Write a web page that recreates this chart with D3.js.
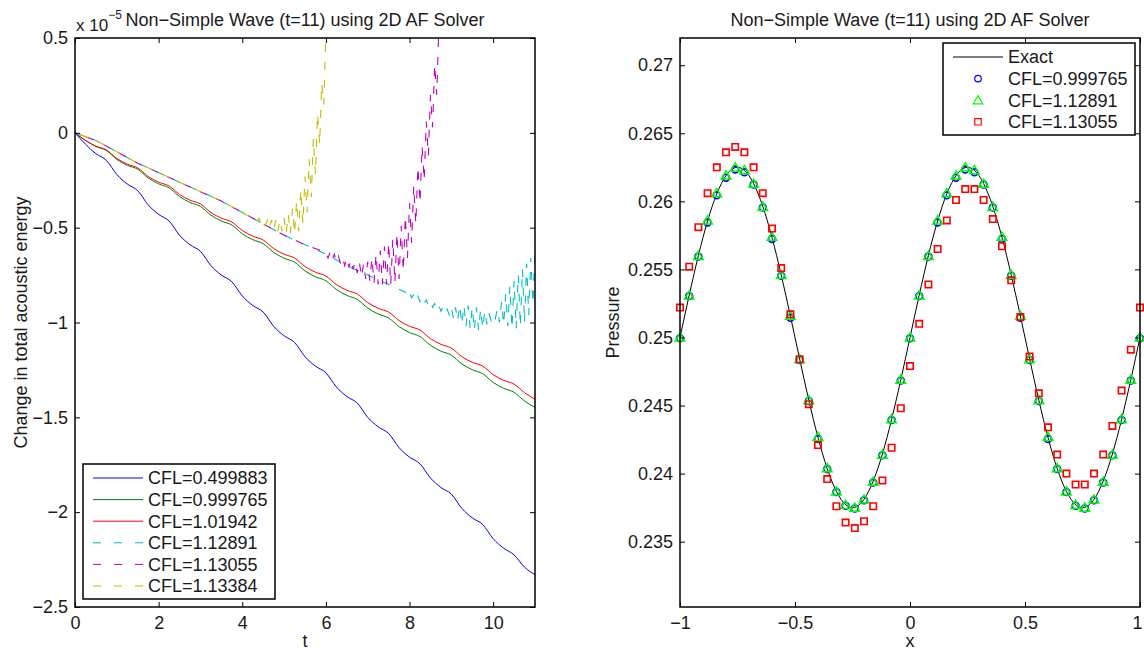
<!DOCTYPE html>
<html>
<head>
<meta charset="utf-8">
<script src="https://cdn.jsdelivr.net/npm/d3@7"></script>
<style>
  body { margin: 0; background: #fff; }
  text { font-family: "Liberation Sans", Arial, Helvetica, sans-serif; fill: #1a1a1a; }
</style>
</head>
<body>
<svg id="chart" width="1144" height="652"></svg>
<script>
// ---------- left panel: change in total acoustic energy (x 1e-5) ----------
const tGrid = [0,0.25,0.5,0.75,1,1.25,1.5,1.75,2,2.25,2.5,2.75,3,3.25,3.5,3.75,4,4.25,4.5,4.75,5,5.25,5.5,5.75,6,6.25,6.5,6.75,7,7.25,7.5,7.75,8,8.25,8.5,8.75,9,9.25,9.5,9.75,10,10.25,10.5,10.75,11];

const energyCfl0499 = [0,-0.06,-0.11,-0.145,-0.22,-0.27,-0.305,-0.38,-0.43,-0.465,-0.54,-0.59,-0.625,-0.70,-0.75,-0.785,-0.86,-0.91,-0.945,-1.02,-1.07,-1.105,-1.18,-1.23,-1.265,-1.34,-1.39,-1.425,-1.50,-1.55,-1.585,-1.66,-1.71,-1.745,-1.82,-1.87,-1.905,-1.98,-2.03,-2.065,-2.14,-2.19,-2.225,-2.29,-2.33];
const energyCfl0999 = [0,-0.04,-0.072,-0.093,-0.14,-0.171,-0.192,-0.238,-0.269,-0.29,-0.336,-0.367,-0.388,-0.434,-0.465,-0.486,-0.532,-0.563,-0.584,-0.63,-0.661,-0.682,-0.728,-0.759,-0.78,-0.826,-0.857,-0.878,-0.924,-0.955,-0.976,-1.022,-1.053,-1.074,-1.12,-1.151,-1.172,-1.218,-1.249,-1.27,-1.316,-1.347,-1.368,-1.414,-1.448];
const energyCfl1019 = [0,-0.04,-0.07,-0.09,-0.135,-0.165,-0.185,-0.23,-0.26,-0.28,-0.325,-0.355,-0.375,-0.42,-0.45,-0.47,-0.515,-0.545,-0.565,-0.61,-0.64,-0.66,-0.705,-0.735,-0.755,-0.80,-0.83,-0.85,-0.895,-0.925,-0.945,-0.99,-1.02,-1.04,-1.085,-1.115,-1.135,-1.18,-1.21,-1.23,-1.275,-1.305,-1.325,-1.37,-1.405];

// unstable runs: [t, value] pairs, dense where the solution oscillates
const energyCfl1128 = [[0,0],[0.5,-0.04],[1,-0.1],[1.5,-0.16],[2,-0.21],[2.5,-0.26],[3,-0.31],[3.5,-0.36],[4,-0.42],[4.5,-0.48],[5,-0.54],[5.5,-0.59],[6,-0.64],[6.5,-0.7],[7,-0.75],[7.5,-0.8],[7.9,-0.84],
  [7.95,-0.86],[8,-0.84],[8.05,-0.87],[8.1,-0.85],[8.15,-0.88],[8.2,-0.86],[8.25,-0.89],[8.3,-0.87],[8.35,-0.9],[8.4,-0.88],[8.45,-0.91],[8.5,-0.89],[8.55,-0.92],[8.6,-0.9],[8.65,-0.93],[8.7,-0.91],[8.75,-0.94],[8.8,-0.92],[8.85,-0.95],
  [8.9,-0.93],[8.95,-0.96],[9,-0.92],[9.05,-0.98],[9.1,-0.92],[9.15,-0.99],[9.2,-0.91],[9.25,-1.01],[9.3,-0.91],[9.35,-1.02],[9.4,-0.91],[9.45,-1.03],[9.5,-0.92],[9.55,-1.04],[9.6,-0.92],[9.65,-1.04],[9.7,-0.93],[9.75,-1.03],[9.8,-0.94],[9.85,-1.01],[9.9,-0.95],[9.95,-0.99],
  [10,-0.96],[10.05,-0.98],[10.1,-0.93],[10.15,-1.0],[10.2,-0.89],[10.25,-1.01],[10.3,-0.85],[10.35,-1.02],[10.4,-0.81],[10.45,-1.03],[10.5,-0.78],[10.55,-1.03],[10.6,-0.75],[10.65,-1.02],[10.7,-0.72],[10.75,-1.0],[10.8,-0.69],[10.85,-0.96],[10.9,-0.66],[10.95,-0.9],[11,-0.63]];

const energyCfl1130 = [[0,0],[0.5,-0.04],[1,-0.1],[1.5,-0.16],[2,-0.21],[2.5,-0.26],[3,-0.31],[3.5,-0.36],[4,-0.42],[4.5,-0.48],[5,-0.54],[5.5,-0.59],
  [6,-0.63],[6.05,-0.66],[6.1,-0.63],[6.15,-0.67],[6.2,-0.64],[6.25,-0.68],[6.3,-0.65],[6.35,-0.69],[6.4,-0.66],[6.45,-0.7],[6.5,-0.66],[6.55,-0.71],[6.6,-0.67],[6.65,-0.72],[6.7,-0.68],[6.75,-0.74],[6.8,-0.68],[6.85,-0.76],[6.9,-0.69],[6.95,-0.77],
  [7,-0.68],[7.05,-0.78],[7.1,-0.66],[7.15,-0.79],[7.2,-0.64],[7.25,-0.8],[7.3,-0.62],[7.35,-0.8],[7.4,-0.6],[7.45,-0.8],[7.5,-0.58],[7.55,-0.8],[7.6,-0.56],[7.65,-0.79],[7.7,-0.53],[7.75,-0.77],[7.8,-0.49],[7.85,-0.73],[7.9,-0.44],[7.95,-0.66],
  [8,-0.37],[8.05,-0.58],[8.1,-0.28],[8.15,-0.48],[8.2,-0.18],[8.25,-0.37],[8.3,-0.07],[8.35,-0.25],[8.4,0.06],[8.45,-0.12],[8.5,0.2],[8.55,0.03],[8.6,0.36],[8.65,0.2],[8.7,0.55]];

const energyCfl1133 = [[0,0],[0.5,-0.04],[1,-0.1],[1.5,-0.16],[2,-0.21],[2.5,-0.26],[3,-0.31],[3.5,-0.36],[4,-0.42],
  [4.3,-0.46],[4.35,-0.47],[4.4,-0.45],[4.45,-0.48],[4.5,-0.46],[4.55,-0.49],[4.6,-0.46],[4.65,-0.5],[4.7,-0.46],[4.75,-0.51],[4.8,-0.46],[4.85,-0.52],[4.9,-0.46],[4.95,-0.52],
  [5,-0.45],[5.05,-0.53],[5.1,-0.43],[5.15,-0.53],[5.2,-0.4],[5.25,-0.53],[5.3,-0.36],[5.35,-0.52],[5.4,-0.3],[5.45,-0.48],[5.5,-0.23],[5.55,-0.42],[5.6,-0.14],[5.65,-0.34],[5.7,-0.03],[5.75,-0.22],[5.8,0.1],[5.85,-0.06],[5.9,0.26],[5.95,0.15],[6,0.55]];

const leftLabels = ["CFL=0.499883","CFL=0.999765","CFL=1.01942","CFL=1.12891","CFL=1.13055","CFL=1.13384"];
const leftColors = ["#0000ff","#008000","#ff0000","#00bfbf","#bf00bf","#bfbf00"];
const leftXTicks = [0,2,4,6,8,10];
const leftYTicks = [0.5,0,-0.5,-1,-1.5,-2,-2.5];
const leftYTickLabels = ["0.5","0","\u22120.5","\u22121","\u22121.5","\u22122","\u22122.5"];

// ---------- right panel: pressure profile at t=11 ----------
const sampleX = [-1,-0.96,-0.92,-0.88,-0.84,-0.8,-0.76,-0.72,-0.68,-0.64,-0.6,-0.56,-0.52,-0.48,-0.44,-0.4,-0.36,-0.32,-0.28,-0.24,-0.2,-0.16,-0.12,-0.08,-0.04,0,0.04,0.08,0.12,0.16,0.2,0.24,0.28,0.32,0.36,0.4,0.44,0.48,0.52,0.56,0.6,0.64,0.68,0.72,0.76,0.8,0.84,0.88,0.92,0.96,1];
const exactP = [0.25,0.25311,0.25602,0.25856,0.26055,0.26189,0.26248,0.26228,0.26131,0.25963,0.25735,0.2546,0.25157,0.24843,0.2454,0.24265,0.24037,0.23869,0.23772,0.23752,0.23811,0.23945,0.24144,0.24398,0.24689,0.25,0.25311,0.25602,0.25856,0.26055,0.26189,0.26248,0.26228,0.26131,0.25963,0.25735,0.2546,0.25157,0.24843,0.2454,0.24265,0.24037,0.23869,0.23772,0.23752,0.23811,0.23945,0.24144,0.24398,0.24689,0.25];
const pressCfl0999 = [0.2500,0.2531,0.2560,0.2585,0.2605,0.2618,0.2624,0.2622,0.2613,0.2596,0.2573,0.2546,0.2515,0.2484,0.2454,0.2426,0.2404,0.2387,0.2377,0.2375,0.2381,0.2394,0.2414,0.2440,0.2469,0.2500,0.2531,0.2560,0.2585,0.2605,0.2618,0.2624,0.2622,0.2613,0.2596,0.2573,0.2546,0.2515,0.2484,0.2454,0.2426,0.2404,0.2387,0.2377,0.2375,0.2381,0.2394,0.2414,0.2440,0.2469,0.2500];
const pressCfl1128 = [0.2500,0.2531,0.2560,0.2586,0.2606,0.2619,0.2625,0.2623,0.2613,0.2596,0.2574,0.2546,0.2516,0.2484,0.2454,0.2427,0.2404,0.2387,0.2377,0.2375,0.2381,0.2394,0.2414,0.2440,0.2469,0.2500,0.2531,0.2560,0.2586,0.2606,0.2619,0.2625,0.2623,0.2613,0.2596,0.2574,0.2546,0.2516,0.2484,0.2454,0.2427,0.2404,0.2387,0.2377,0.2375,0.2381,0.2394,0.2414,0.2440,0.2469,0.2500];
const pressCfl1130 = [0.2522,0.2552,0.2581,0.2606,0.2625,0.2636,0.2640,0.2636,0.2625,0.2606,0.2580,0.2551,0.2517,0.2484,0.2451,0.2421,0.2396,0.2376,0.2364,0.2360,0.2365,0.2376,0.2395,0.2419,0.2448,0.2479,0.2510,0.2539,0.2565,0.2586,0.2601,0.2609,0.2609,0.2601,0.2587,0.2567,0.2542,0.2515,0.2486,0.2459,0.2434,0.2414,0.2400,0.2392,0.2392,0.2400,0.2414,0.2435,0.2461,0.2491,0.2522];

const rightLabels = ["Exact","CFL=0.999765","CFL=1.12891","CFL=1.13055"];
const rightXTicks = [-1,-0.5,0,0.5,1];
const rightXTickLabels = ["\u22121","\u22120.5","0","0.5","1"];
const rightYTicks = [0.235,0.24,0.245,0.25,0.255,0.26,0.265,0.27];

const title = "Non\u2212Simple Wave (t=11) using 2D AF Solver";

// ---------- drawing ----------
const svg = d3.select('#chart');
const fontSize = 18;
const tick = 5;

const left = { x0: 75, x1: 535, y0: 38, y1: 607 };
const right = { x0: 680, x1: 1140, y0: 38, y1: 607 };

function drawFrame(box, x, y, xTicks, xLabels, yTicks, yLabels) {
    const g = svg.append('g');
    const fmt = (labels) => (d, i) => labels ? labels[i] : String(d);

    g.append('g')
        .attr('class', 'xaxis')
        .attr('transform', `translate(0,${box.y1})`)
        .call(d3.axisBottom(x).tickValues(xTicks).tickFormat(fmt(xLabels)).tickSizeInner(-tick).tickSizeOuter(0).tickPadding(9));
    g.append('g')
        .attr('transform', `translate(0,${box.y0})`)
        .call(d3.axisTop(x).tickValues(xTicks).tickFormat('').tickSizeInner(-tick).tickSizeOuter(0));
    g.append('g')
        .attr('transform', `translate(${box.x0},0)`)
        .call(d3.axisLeft(y).tickValues(yTicks).tickFormat(fmt(yLabels)).tickSizeInner(-tick).tickSizeOuter(0).tickPadding(7));
    g.append('g')
        .attr('transform', `translate(${box.x1},0)`)
        .call(d3.axisRight(y).tickValues(yTicks).tickFormat('').tickSizeInner(-tick).tickSizeOuter(0));

    g.selectAll('.domain').remove();
    g.selectAll('.tick line').attr('stroke', '#000').attr('stroke-width', 1);
    g.selectAll('.tick text')
        .style('font-family', '"Liberation Sans", Arial, sans-serif')
        .style('font-size', fontSize + 'px')
        .attr('fill', '#1a1a1a');

    g.append('rect')
        .attr('x', box.x0).attr('y', box.y0)
        .attr('width', box.x1 - box.x0).attr('height', box.y1 - box.y0)
        .attr('fill', 'none').attr('stroke', '#000').attr('stroke-width', 1.5);
    return g;
}

// ---- left panel ----
const xT = d3.scaleLinear().domain([0, 11]).range([left.x0, left.x1]);
const yE = d3.scaleLinear().domain([-2.5, 0.5]).range([left.y1, left.y0]);

svg.append('defs').append('clipPath').attr('id', 'clipLeft')
    .append('rect')
    .attr('x', left.x0).attr('y', left.y0)
    .attr('width', left.x1 - left.x0).attr('height', left.y1 - left.y0);

const plotL = svg.append('g').attr('clip-path', 'url(#clipLeft)');

const smoothLine = d3.line().x((d, i) => xT(tGrid[i])).y(d => yE(d)).curve(d3.curveMonotoneX);
const pairLine = d3.line().x(d => xT(d[0])).y(d => yE(d[1]));

[energyCfl0499, energyCfl0999, energyCfl1019].forEach((vals, i) => {
    plotL.append('path')
        .attr('d', smoothLine(vals))
        .attr('fill', 'none')
        .attr('stroke', leftColors[i])
        .attr('stroke-width', 1);
});

const dashOffsets = [0, 6, 12];
[energyCfl1128, energyCfl1130, energyCfl1133].forEach((pts, i) => {
    plotL.append('path')
        .attr('d', pairLine(pts))
        .attr('fill', 'none')
        .attr('stroke', leftColors[i + 3])
        .attr('stroke-width', 1.1)
        .attr('stroke-dasharray', '8,10')
        .attr('stroke-dashoffset', dashOffsets[i]);
});

drawFrame(left, xT, yE, leftXTicks, null, leftYTicks, leftYTickLabels);

// left legend
const legL = { x: 83, y: 464, w: 192, h: 135, row: 21.6 };
const lg = svg.append('g');
lg.append('rect')
    .attr('x', legL.x).attr('y', legL.y).attr('width', legL.w).attr('height', legL.h)
    .attr('fill', '#fff').attr('stroke', '#000').attr('stroke-width', 1.5);
leftLabels.forEach((lab, i) => {
    const cy = legL.y + 14 + i * legL.row;
    lg.append('line')
        .attr('x1', legL.x + 10).attr('x2', legL.x + 60)
        .attr('y1', cy).attr('y2', cy)
        .attr('stroke', leftColors[i]).attr('stroke-width', 1)
        .attr('stroke-dasharray', i >= 3 ? '8,13' : null);
    lg.append('text')
        .attr('x', legL.x + 65).attr('y', cy)
        .attr('dy', '0.35em')
        .style('font-size', fontSize + 'px')
        .text(lab);
});

// titles and labels, left
svg.append('text')
    .attr('x', (left.x0 + left.x1) / 2).attr('y', 26)
    .attr('text-anchor', 'middle')
    .style('font-size', fontSize + 'px')
    .text(title);

const mult = svg.append('text')
    .attr('x', left.x0 + 1).attr('y', 31)
    .style('font-size', '17px');
mult.append('tspan').text('x 10');
mult.append('tspan').attr('dy', -12).style('font-size', '12px').text('\u22125');

svg.append('text')
    .attr('x', (left.x0 + left.x1) / 2).attr('y', 647)
    .attr('text-anchor', 'middle')
    .style('font-size', fontSize + 'px')
    .text('t');

svg.append('text')
    .attr('transform', `translate(27,${(left.y0 + left.y1) / 2}) rotate(-90)`)
    .attr('text-anchor', 'middle')
    .style('font-size', fontSize + 'px')
    .text('Change in total acoustic energy');

// ---- right panel ----
const xX = d3.scaleLinear().domain([-1, 1]).range([right.x0, right.x1]);
const yP = d3.scaleLinear().domain([0.2302, 0.2720]).range([right.y1, right.y0]);

const plotR = svg.append('g');

plotR.append('path')
    .attr('d', d3.line().x((d, i) => xX(sampleX[i])).y(d => yP(d)).curve(d3.curveNatural)(exactP))
    .attr('fill', 'none')
    .attr('stroke', '#000')
    .attr('stroke-width', 1);

const triPath = 'M0,-4.6L4.8,3.6L-4.8,3.6Z';
const sqPath = 'M-3.2,-3.2H3.2V3.2H-3.2Z';

plotR.selectAll('circle.cfl0999')
    .data(pressCfl0999)
    .join('circle')
    .attr('class', 'cfl0999')
    .attr('cx', (d, i) => xX(sampleX[i]))
    .attr('cy', d => yP(d) + 0.8)
    .attr('r', 3.4)
    .attr('fill', 'none').attr('stroke', '#0000ff').attr('stroke-width', 1.7);

plotR.selectAll('path.cfl1128')
    .data(pressCfl1128)
    .join('path')
    .attr('class', 'cfl1128')
    .attr('transform', (d, i) => `translate(${xX(sampleX[i])},${yP(d)})`)
    .attr('d', triPath)
    .attr('fill', 'none').attr('stroke', '#00ff00').attr('stroke-width', 1.5);

plotR.selectAll('path.cfl1130')
    .data(pressCfl1130)
    .join('path')
    .attr('class', 'cfl1130')
    .attr('transform', (d, i) => `translate(${xX(sampleX[i])},${yP(d)})`)
    .attr('d', sqPath)
    .attr('fill', 'none').attr('stroke', '#ff0000').attr('stroke-width', 1.6);

const frameR = drawFrame(right, xX, yP, rightXTicks, rightXTickLabels, rightYTicks, null);
// keep the last tick label just inside the picture
frameR.selectAll('.xaxis .tick text').filter((d) => d === 1).attr('dx', -3);

// right legend
const legR = { x: 943, y: 43, w: 192, h: 92, row: 21.6 };
const rg = svg.append('g');
rg.append('rect')
    .attr('x', legR.x).attr('y', legR.y).attr('width', legR.w).attr('height', legR.h)
    .attr('fill', '#fff').attr('stroke', '#000').attr('stroke-width', 1.5);
rightLabels.forEach((lab, i) => {
    const cy = legR.y + 14 + i * legR.row;
    const cx = legR.x + 35;
    if (i === 0) {
        rg.append('line')
            .attr('x1', legR.x + 10).attr('x2', legR.x + 60)
            .attr('y1', cy).attr('y2', cy)
            .attr('stroke', '#000').attr('stroke-width', 1);
    } else if (i === 1) {
        rg.append('circle').attr('cx', cx).attr('cy', cy).attr('r', 3.3)
            .attr('fill', 'none').attr('stroke', '#0000ff').attr('stroke-width', 1.2);
    } else {
        rg.append('path')
            .attr('transform', `translate(${cx},${cy})`)
            .attr('d', i === 2 ? triPath : sqPath)
            .attr('fill', 'none')
            .attr('stroke', i === 2 ? '#00ff00' : '#ff0000')
            .attr('stroke-width', 1.2);
    }
    rg.append('text')
        .attr('x', legR.x + 65).attr('y', cy)
        .attr('dy', '0.35em')
        .style('font-size', fontSize + 'px')
        .text(lab);
});

svg.append('text')
    .attr('x', (right.x0 + right.x1) / 2).attr('y', 26)
    .attr('text-anchor', 'middle')
    .style('font-size', fontSize + 'px')
    .text(title);

svg.append('text')
    .attr('x', (right.x0 + right.x1) / 2).attr('y', 647)
    .attr('text-anchor', 'middle')
    .style('font-size', fontSize + 'px')
    .text('x');

svg.append('text')
    .attr('transform', `translate(619,${(right.y0 + right.y1) / 2}) rotate(-90)`)
    .attr('text-anchor', 'middle')
    .style('font-size', fontSize + 'px')
    .text('Pressure');
</script>
</body>
</html>
